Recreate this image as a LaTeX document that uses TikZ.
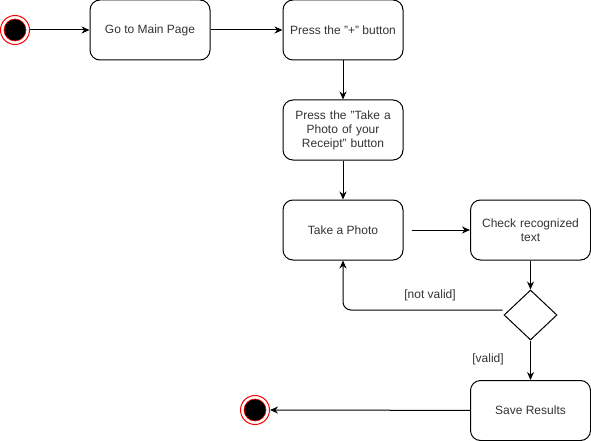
\documentclass[tikz,border=0pt]{standalone}
\usepackage{fontspec}
\setmainfont{Liberation Sans}
\usetikzlibrary{shapes.geometric,arrows.meta}
\definecolor{txt}{HTML}{333333}
\definecolor{ringred}{HTML}{FF0000}
\begin{document}
\begin{tikzpicture}[x=1pt,y=-1pt,
  every node/.style={font=\fontsize{12}{14}\selectfont, text=txt},
  act/.style={draw=black, line width=1pt, rounded corners=10pt, minimum width=120pt, minimum height=60pt, align=center, inner sep=2pt},
  dec/.style={draw=black, line width=1pt, diamond, minimum width=53pt, minimum height=50pt, inner sep=0pt},
  outerring/.style={circle, draw=ringred, line width=1pt, fill=white, minimum size=29pt, inner sep=0pt},
  innerdot/.style={circle, draw=ringred, line width=0.6pt, fill=black, minimum size=22pt, inner sep=0pt},
  arr/.style={-{Stealth[length=8pt,width=7pt]}, line width=1pt, draw=black},
  lbl/.style={inner sep=0pt}
]
\useasboundingbox (0,0) rectangle (591,441);
% start
\node[outerring] (s) at (15,30) {};
\node[innerdot] (si) at (15,30) {};
% end
\node[outerring] (e) at (255,410) {};
\node[innerdot] (ei) at (255,410) {};
% activities
\node[act] (t1) at (150,30) {Go to Main Page};
\node[act] (t2) at (343,30) {Press the "+" button};
\node[act, text width=104pt] (t3) at (343,130) {Press the "Take a\\Photo of your\\Receipt" button};
\node[act] (t4) at (343,230) {Take a Photo};
\node[act, text width=104pt] (t5) at (530.5,230) {Check recognized\\text};
\node[dec] (d) at (530.5,315) {};
\node[act] (t6) at (530.5,410.5) {Save Results};
% connectors
\draw[arr] (s) -- (t1);
\draw[arr] (t1) -- (t2);
\draw[arr] (t2) -- (t3);
\draw[arr] (t3) -- (t4);
\draw[arr] ([xshift=8pt]t4.east) -- (t5);
\draw[arr] (t5) -- (d);
\draw[arr, rounded corners=8pt] ([xshift=-1pt,yshift=5pt]d.west) -| (t4.south);
\draw[arr] (d) -- (t6);
\draw[arr] (t6) -- (e);
% labels
\node[lbl] (lnv) at (430,295) {[not valid]};
\node[lbl] (lv) at (488,359) {[valid]};
\end{tikzpicture}
\end{document}
